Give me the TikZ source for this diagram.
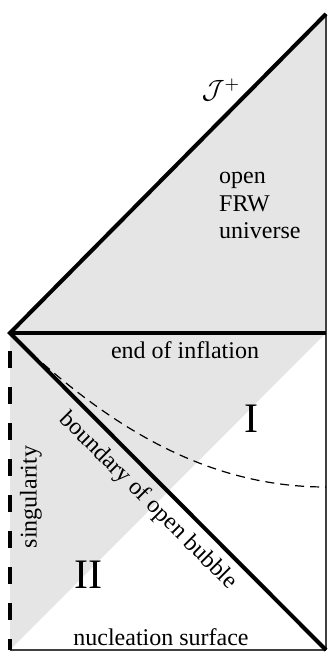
\documentclass[tikz,border=0pt]{standalone}
\usepackage{fontspec}
\setmainfont{Liberation Serif}
\definecolor{regiongray}{RGB}{229,229,229}
\begin{document}
\begin{tikzpicture}[x=1pt,y=-1pt,
  heavy/.style={line width=4pt, line join=miter, line cap=butt},
  edge/.style={line width=1.3pt, draw=black!75},
  sing/.style={line width=4.2pt, dash pattern=on 17pt off 19pt, dash phase=18pt},
  hyper/.style={line width=1.2pt, dash pattern=on 9pt off 6pt},
  txt/.style={font=\fontsize{24}{27.5}\selectfont, inner sep=0pt},
  big/.style={font=\fontsize{42}{42}\selectfont, inner sep=0pt}]
\useasboundingbox (0,0) rectangle (328,652);
\coordinate (L) at (10,333);
\coordinate (TR) at (326,14);
\coordinate (MR) at (326,333);
\coordinate (BR) at (326,650);
\coordinate (BL) at (10,650);
\coordinate (HE) at (326,487);
% shaded regions
\fill[regiongray] (L) -- (TR) -- (MR) -- cycle;
\fill[regiongray] (L) -- (MR) -- (BL) -- cycle;
% thin frame
\draw[edge] (TR) -- (BR);
\draw[edge] (BL) -- (BR);
% dashed hypersurface
\draw[hyper] (L) .. controls (120,440) and (220,487) .. (HE);
% singularity
\draw[sing] (L) -- (BL);
% heavy lines
\draw[heavy] (BR) -- (L) -- (TR);
\draw[heavy] (L) -- (MR);
% labels
\node[inner sep=0pt, font=\fontsize{12}{12}\selectfont, scale=2.2] (scri) at (221,90) {$\mathcal{J}^{+}$};
\node[txt, align=left, anchor=north west] (frw) at (219,172) {open\\FRW\\universe};
\node[txt, anchor=base] (endinf) at (185,358) {end of inflation};
\node[big, anchor=base] (one) at (251,432) {I};
\node[big, anchor=base] (two) at (88,588) {II};
\node[txt, rotate=90] (singl) at (31,497) {singularity};
\node[txt, rotate=-45] (bnd) at (148,501) {boundary of open bubble};
\node[txt, anchor=base] (nucl) at (161,645) {nucleation surface};
\end{tikzpicture}
\end{document}
